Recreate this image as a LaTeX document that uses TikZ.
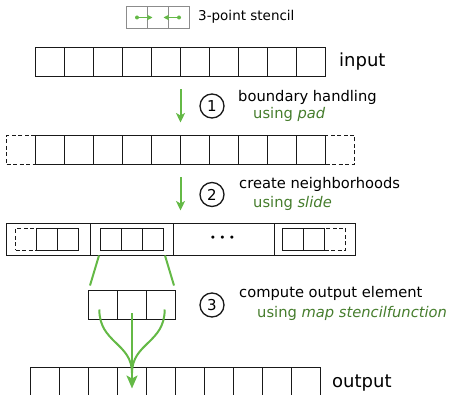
\documentclass[tikz,border=0pt]{standalone}
\usepackage{fontspec}
\setmainfont{DejaVu Sans}
\usetikzlibrary{arrows.meta,calc}
\definecolor{arrgreen}{RGB}{100,185,70}
\definecolor{txtgreen}{RGB}{70,125,45}
\definecolor{legendgray}{RGB}{140,140,140}
\definecolor{linegray}{RGB}{25,25,25}
\begin{document}
\begin{tikzpicture}[x=1pt,y=-1pt,
  cell/.style={draw=linegray, line width=1.6pt, minimum width=29pt, minimum height=29pt, inner sep=0pt, outer sep=0pt},
  dcell/.style={cell, dash pattern=on 4pt off 2.5pt},
  seg/.style={draw=linegray, line width=1.6pt, minimum height=32pt, inner sep=0pt, outer sep=0pt},
  small/.style={draw=linegray, line width=1.6pt, minimum width=21pt, minimum height=22pt, inner sep=0pt, outer sep=0pt},
  dsmall/.style={small, dash pattern=on 4pt off 2.5pt},
  lcell/.style={draw=legendgray, line width=1.2pt, minimum width=21pt, minimum height=22pt, inner sep=0pt, outer sep=0pt},
  num/.style={draw=linegray, circle, line width=1.3pt, minimum size=24pt, inner sep=0pt, font=\fontsize{15}{17}\selectfont},
  lbl/.style={anchor=base west, inner sep=0pt, font=\fontsize{14.7}{17}\selectfont},
  sub/.style={lbl, text=txtgreen},
  big/.style={anchor=base west, inner sep=0pt, font=\fontsize{18}{21}\selectfont},
  garrow/.style={draw=arrgreen, line width=2pt, -{Stealth[length=9.5pt,width=9pt,inset=2.5pt]}},
  gline/.style={draw=arrgreen, line width=2pt},
]
\useasboundingbox (0,0) rectangle (452,395);

% legend
\node[lcell] (l1) at (137,17.5) {};
\node[lcell] (l2) at (158,17.5) {};
\node[lcell] (l3) at (179,17.5) {};
\fill[arrgreen] (l1.center) circle (2pt);
\fill[arrgreen] (l3.center) circle (2pt);
\draw[draw=arrgreen, line width=1.4pt, -{Stealth[length=5.5pt,width=5.5pt,inset=1pt]}] (l1.center) -- ($(l2.center)+(-5.5,0)$);
\draw[draw=arrgreen, line width=1.4pt, -{Stealth[length=5.5pt,width=5.5pt,inset=1pt]}] (l3.center) -- ($(l2.center)+(5.5,0)$);
\node[anchor=base west, inner sep=0pt, font=\fontsize{13.5}{16}\selectfont] (legtxt) at (198,21) {3-point stencil};

% input row
\foreach \i in {1,...,10} {
  \node[cell] (in\i) at ({35.5+29*(\i-0.5)},62) {};
}
\node[big] (intxt) at (339,67) {input};

% padded row
\node[dcell] (pdL) at (21,150) {};
\node[dcell] (pdR) at (340,150) {};
\foreach \i in {1,...,10} {
  \node[cell] (pd\i) at ({35.5+29*(\i-0.5)},150) {};
}

% step 1
\draw[garrow, shorten <=13pt, shorten >=13pt] (in5.south east) -- (pd5.north east);
\node[num] (c1) at (212,106) {1};
\node[lbl] (t1) at (238,102) {boundary handling};
\node[sub] (u1) at (253,119) {using \textit{pad}};

% neighborhood row
\node[seg, minimum width=84pt] (nb1) at (48.5,239.5) {};
\node[seg, minimum width=83pt] (nb2) at (132,239.5) {};
\node[seg, minimum width=101pt] (nb3) at (224,239.5) {};
\node[seg, minimum width=81pt] (nb4) at (315,239.5) {};
\node[dsmall] (a1) at (26,239.5) {};
\node[small] (a2) at (47,239.5) {};
\node[small] (a3) at (68,239.5) {};
\node[small] (b1) at (111,239.5) {};
\node[small] (b2) at (132,239.5) {};
\node[small] (b3) at (153,239.5) {};
\node[small] (d1) at (293,239.5) {};
\node[small] (d2) at (314,239.5) {};
\node[dsmall] (d3) at (335,239.5) {};
\node[inner sep=0pt, font=\fontsize{10.5}{12}\selectfont] (dots) at (222.5,238.5) {• • •};

% step 2
\draw[garrow, shorten <=13pt, shorten >=13pt] (pd5.south east) -- (pd5.south east |- nb3.north);
\node[num] (c2) at (212,194.5) {2};
\node[lbl] (t2) at (239,189) {create neighborhoods};
\node[sub] (u2) at (253,208) {using \textit{slide}};

% stencil
\node[cell] (s1) at (103,305) {};
\node[cell] (s2) at (132,305) {};
\node[cell] (s3) at (161,305) {};
\draw[gline, shorten <=5.2pt, shorten >=5.2pt] (b1.south west) -- (s1.north west);
\draw[gline, shorten <=5.2pt, shorten >=5.2pt] (b3.south east) -- (s3.north east);

% step 3
\node[num] (c3) at (212,305) {3};
\node[lbl] (t3) at (239,297) {compute output element};
\node[sub] (u3) at (257,317) {using \textit{map stencilfunction}};

% output row
\foreach \i in {1,...,10} {
  \node[cell] (out\i) at ({30.5+29*(\i-0.5)},382) {};
}
\node[big] (outtxt) at (332,387) {output};

% merging arrows
\coordinate (mrg) at (132,373);
\draw[gline] ($(s1.center)+(-3.7,4.5)$) .. controls ($(s1.center)+(-3.7,38)$) and ($(mrg)+(0,-30)$) .. (mrg);
\draw[gline] ($(s3.center)+(3.7,4.5)$) .. controls ($(s3.center)+(3.7,38)$) and ($(mrg)+(0,-30)$) .. (mrg);
\draw[draw=arrgreen, line width=2pt, -{Stealth[length=13pt,width=11pt,inset=3pt]}] ($(s2.center)+(0,8)$) -- ($(out4.south)+(0,-8)$);
\end{tikzpicture}
\end{document}
